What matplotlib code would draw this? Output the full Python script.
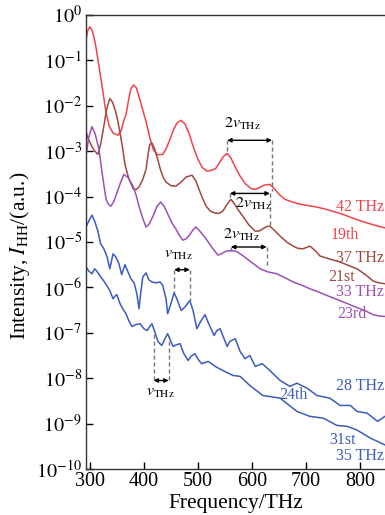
import matplotlib
matplotlib.use("Agg")
import matplotlib.pyplot as plt
import numpy as np

plt.rcParams['font.family'] = ['Liberation Serif', 'DejaVu Serif']
plt.rcParams['mathtext.fontset'] = 'stix'

# spectra: frequency (THz) and log10 of intensity (a.u.)
red_f = [293, 296, 300, 304, 308, 312, 316, 320, 325, 330, 336, 343, 352, 358, 363, 367,
         372, 376, 381, 386, 391, 397, 404, 411, 418, 426, 435, 441, 448, 455, 462, 469,
         476, 484, 491, 499, 508, 517, 525, 533, 540, 547, 554, 561, 569, 578, 588, 598,
         606, 614, 622, 633, 641, 651, 661, 675, 689, 705, 720, 737, 754, 768, 781, 797,
         813, 830, 846]
red_log = [-0.55, -0.35, -0.26, -0.33, -0.50, -0.75, -1.05, -1.36, -1.75, -2.15, -2.45, -2.60,
           -2.65, -2.55, -2.32, -2.20, -1.85, -1.62, -1.54, -1.60, -1.80, -2.05, -2.35, -2.70,
           -2.98, -3.08, -3.07, -2.95, -2.75, -2.52, -2.37, -2.32, -2.40, -2.62, -2.89, -3.15,
           -3.36, -3.44, -3.42, -3.38, -3.25, -3.12, -3.05, -3.15, -3.35, -3.55, -3.72, -3.82,
           -3.84, -3.80, -3.75, -3.73, -3.82, -3.96, -4.06, -4.12, -4.17, -4.20, -4.23, -4.28,
           -4.34, -4.39, -4.45, -4.52, -4.58, -4.64, -4.69]

brown_f = [293, 297, 302, 308, 315, 320, 326, 331, 337, 342, 348, 352, 356, 361, 365, 372,
           380, 385, 391, 398, 404, 408, 411, 415, 420, 426, 431, 436, 441, 450, 459, 469,
           478, 489, 496, 502, 509, 515, 523, 531, 539, 546, 554, 561, 567, 575, 583, 594,
           606, 613, 620, 627, 633, 642, 652, 664, 676, 685, 694, 701, 707, 716, 726, 745,
           763, 779, 794, 810, 824, 835, 846]
brown_log = [-2.57, -2.72, -2.85, -2.98, -3.07, -2.85, -2.45, -2.08, -1.84, -1.92, -2.13, -2.35,
             -2.60, -2.95, -3.29, -3.60, -3.82, -3.85, -3.79, -3.62, -3.40, -3.05, -2.85, -2.82,
             -2.95, -3.20, -3.42, -3.58, -3.68, -3.76, -3.77, -3.68, -3.57, -3.53, -3.65, -3.84,
             -4.05, -4.21, -4.32, -4.36, -4.37, -4.32, -4.17, -4.06, -4.15, -4.30, -4.43, -4.62,
             -4.76, -4.76, -4.71, -4.66, -4.65, -4.75, -4.87, -5.00, -5.09, -5.14, -5.15, -5.12,
             -5.09, -5.18, -5.31, -5.38, -5.44, -5.52, -5.59, -5.72, -5.86, -5.90, -5.92]

purple_f = [293, 298, 304, 310, 317, 323, 330, 335, 339, 344, 348, 356, 363, 371, 380, 386,
            391, 398, 404, 410, 417, 424, 431, 438, 446, 452, 459, 466, 472, 478, 483, 490,
            496, 505, 515, 526, 537, 545, 552, 561, 570, 583, 596, 605, 615, 630, 646, 660,
            676, 692, 707, 723, 739, 754, 769, 785, 800, 812, 824, 835, 846]
purple_log = [-3.11, -2.70, -2.46, -2.62, -2.96, -3.50, -4.06, -4.18, -4.21, -4.12, -3.99, -3.72,
              -3.51, -3.58, -3.77, -3.98, -4.21, -4.48, -4.67, -4.60, -4.43, -4.22, -4.12, -4.22,
              -4.43, -4.58, -4.71, -4.86, -4.96, -4.93, -4.87, -4.75, -4.67, -4.78, -4.93, -5.12,
              -5.29, -5.25, -5.20, -5.19, -5.20, -5.30, -5.42, -5.50, -5.59, -5.66, -5.70, -5.78,
              -5.88, -5.95, -6.03, -6.10, -6.18, -6.25, -6.32, -6.40, -6.47, -6.53, -6.60, -6.63,
              -6.64]

blue28_f = [293, 298, 304, 309, 315, 320, 326, 332, 337, 343, 348, 354, 359, 365, 370, 376,
            382, 387, 391, 394, 398, 404, 409, 415, 422, 430, 435, 441, 444, 450, 456, 461,
            469, 476, 485, 491, 498, 506, 513, 520, 530, 535, 541, 554, 559, 569, 578, 587,
            596, 606, 619, 633, 652, 670, 683, 702, 720, 744, 763, 782, 794, 813, 832, 846]
blue28_log = [-4.67, -4.54, -4.41, -4.54, -4.76, -5.04, -5.15, -5.33, -5.59, -5.26, -5.33, -5.48,
              -5.72, -5.50, -5.64, -5.81, -5.90, -6.14, -6.47, -6.14, -5.77, -5.68, -5.83, -5.88,
              -5.90, -5.88, -5.96, -6.25, -6.58, -6.36, -6.12, -6.25, -6.51, -6.43, -6.29, -6.51,
              -6.91, -6.73, -6.60, -6.80, -7.06, -6.95, -6.91, -7.30, -7.19, -7.13, -7.41, -7.57,
              -7.50, -7.74, -7.68, -7.83, -8.05, -8.18, -8.11, -8.22, -8.38, -8.44, -8.60, -8.60,
              -8.73, -8.77, -8.95, -8.84]

blue35_f = [293, 298, 304, 309, 313, 319, 326, 332, 337, 343, 346, 350, 356, 361, 367, 372,
            378, 385, 393, 400, 406, 411, 415, 420, 426, 433, 439, 444, 450, 454, 461, 467,
            474, 482, 487, 494, 502, 507, 519, 532, 546, 565, 578, 596, 620, 652, 683, 707,
            732, 757, 776, 794, 819, 846]
blue35_log = [-5.55, -5.64, -5.70, -5.59, -5.64, -5.75, -5.86, -5.97, -6.07, -6.25, -6.20, -6.16,
              -6.36, -6.47, -6.58, -6.73, -6.86, -6.82, -6.80, -6.91, -6.95, -6.86, -6.80, -6.97,
              -7.19, -7.28, -7.13, -7.02, -7.19, -7.30, -7.26, -7.24, -7.46, -7.61, -7.52, -7.46,
              -7.61, -7.68, -7.63, -7.74, -7.83, -7.94, -7.96, -8.16, -8.38, -8.44, -8.73, -8.84,
              -8.88, -9.04, -9.06, -9.14, -9.32, -9.47]

spectra = [
    (red_f, red_log, '#f2434b'),
    (brown_f, brown_log, '#a04840'),
    (purple_f, purple_log, '#9b50b8'),
    (blue28_f, blue28_log, '#3c5bbf'),
    (blue35_f, blue35_log, '#3c5bbf'),
]

# curve labels: (text, x, log10 y, colour, ha)
labels = [
    ('42 THz', 844, -4.23, '#f2434b', 'right'),
    ('19th', 772, -4.85, '#f2434b', 'center'),
    ('37 THz', 844, -5.35, '#a04840', 'right'),
    ('21st', 765, -5.77, '#a04840', 'center'),
    ('33 THz', 844, -6.10, '#9b50b8', 'right'),
    ('23rd', 785, -6.58, '#9b50b8', 'center'),
    ('28 THz', 844, -8.18, '#3c5bbf', 'right'),
    ('24th', 676, -8.38, '#3c5bbf', 'center'),
    ('31st', 768, -9.36, '#3c5bbf', 'center'),
    ('35 THz', 844, -9.71, '#3c5bbf', 'right'),
]

fig = plt.figure(figsize=(3.85, 5.15), dpi=100)
ax = fig.add_axes([0.2234, 0.0893, 0.7766, 0.8816])

for f, lg, c in spectra:
    ax.plot(f, 10.0 ** np.array(lg), color=c, lw=1.1, solid_joinstyle='round')

ax.set_yscale('log')
ax.set_xlim(293, 846)
ax.set_ylim(1e-10, 1)

# peak-spacing markers
def spacing(x1, x2, ya, y1b, y2b, text, tx, ty):
    ya = 10 ** ya
    ax.plot([x1, x1], [ya, 10 ** y1b], color='#777777', lw=1.0, dashes=(3, 2))
    ax.plot([x2, x2], [ya, 10 ** y2b], color='#777777', lw=1.0, dashes=(3, 2))
    ax.annotate('', xy=(x1, ya), xytext=(x2, ya),
                arrowprops=dict(arrowstyle='<|-|>', color='k', lw=1.0,
                                shrinkA=0, shrinkB=0, mutation_scale=6))
    ax.text(tx, 10 ** ty, text, ha='center', va='center', fontsize=11.5)

spacing(554, 637, -2.76, -3.07, -3.88, r'$2v_{\rm THz}$', 583, -2.41)
spacing(559, 633, -3.93, -4.06, -4.65, r'$2v_{\rm THz}$', 602, -4.17)
spacing(561, 627, -5.11, -5.20, -5.53, r'$2v_{\rm THz}$', 580, -4.85)
spacing(456, 485, -5.61, -6.10, -6.29, r'$v_{\rm THz}$', 463, -5.26)
spacing(418, 446, -8.05, -6.97, -7.06, r'$v_{\rm THz}$', 430, -8.30)

for t, x, y, c, ha in labels:
    ax.text(x, 10 ** y, t, color=c, ha=ha, va='center', fontsize=11.5)

ax.set_xticks([300, 400, 500, 600, 700, 800])
ax.set_yticks(10.0 ** np.arange(-10, 1))
ax.set_yticklabels([r'$10^{%d}$' % e for e in range(-10, 1)])
ax.minorticks_off()
ax.tick_params(direction='in', length=5, width=1, labelsize=14.5, pad=3)
ax.tick_params(axis='x', pad=2)
ax.spines['right'].set_visible(False)
for s in ['left', 'bottom', 'top']:
    ax.spines[s].set_linewidth(1.0)
    ax.spines[s].set_color('#333333')

ax.set_xlabel('Frequency/THz', fontsize=15.5)
ax.xaxis.set_label_coords(0.5, -0.054)
ax.set_ylabel(r'Intensity, $I_{\rm HH}$/(a.u.)', fontsize=15.5)
ax.yaxis.set_label_coords(-0.18, 0.47)

fig.savefig('out.png', dpi=100)
